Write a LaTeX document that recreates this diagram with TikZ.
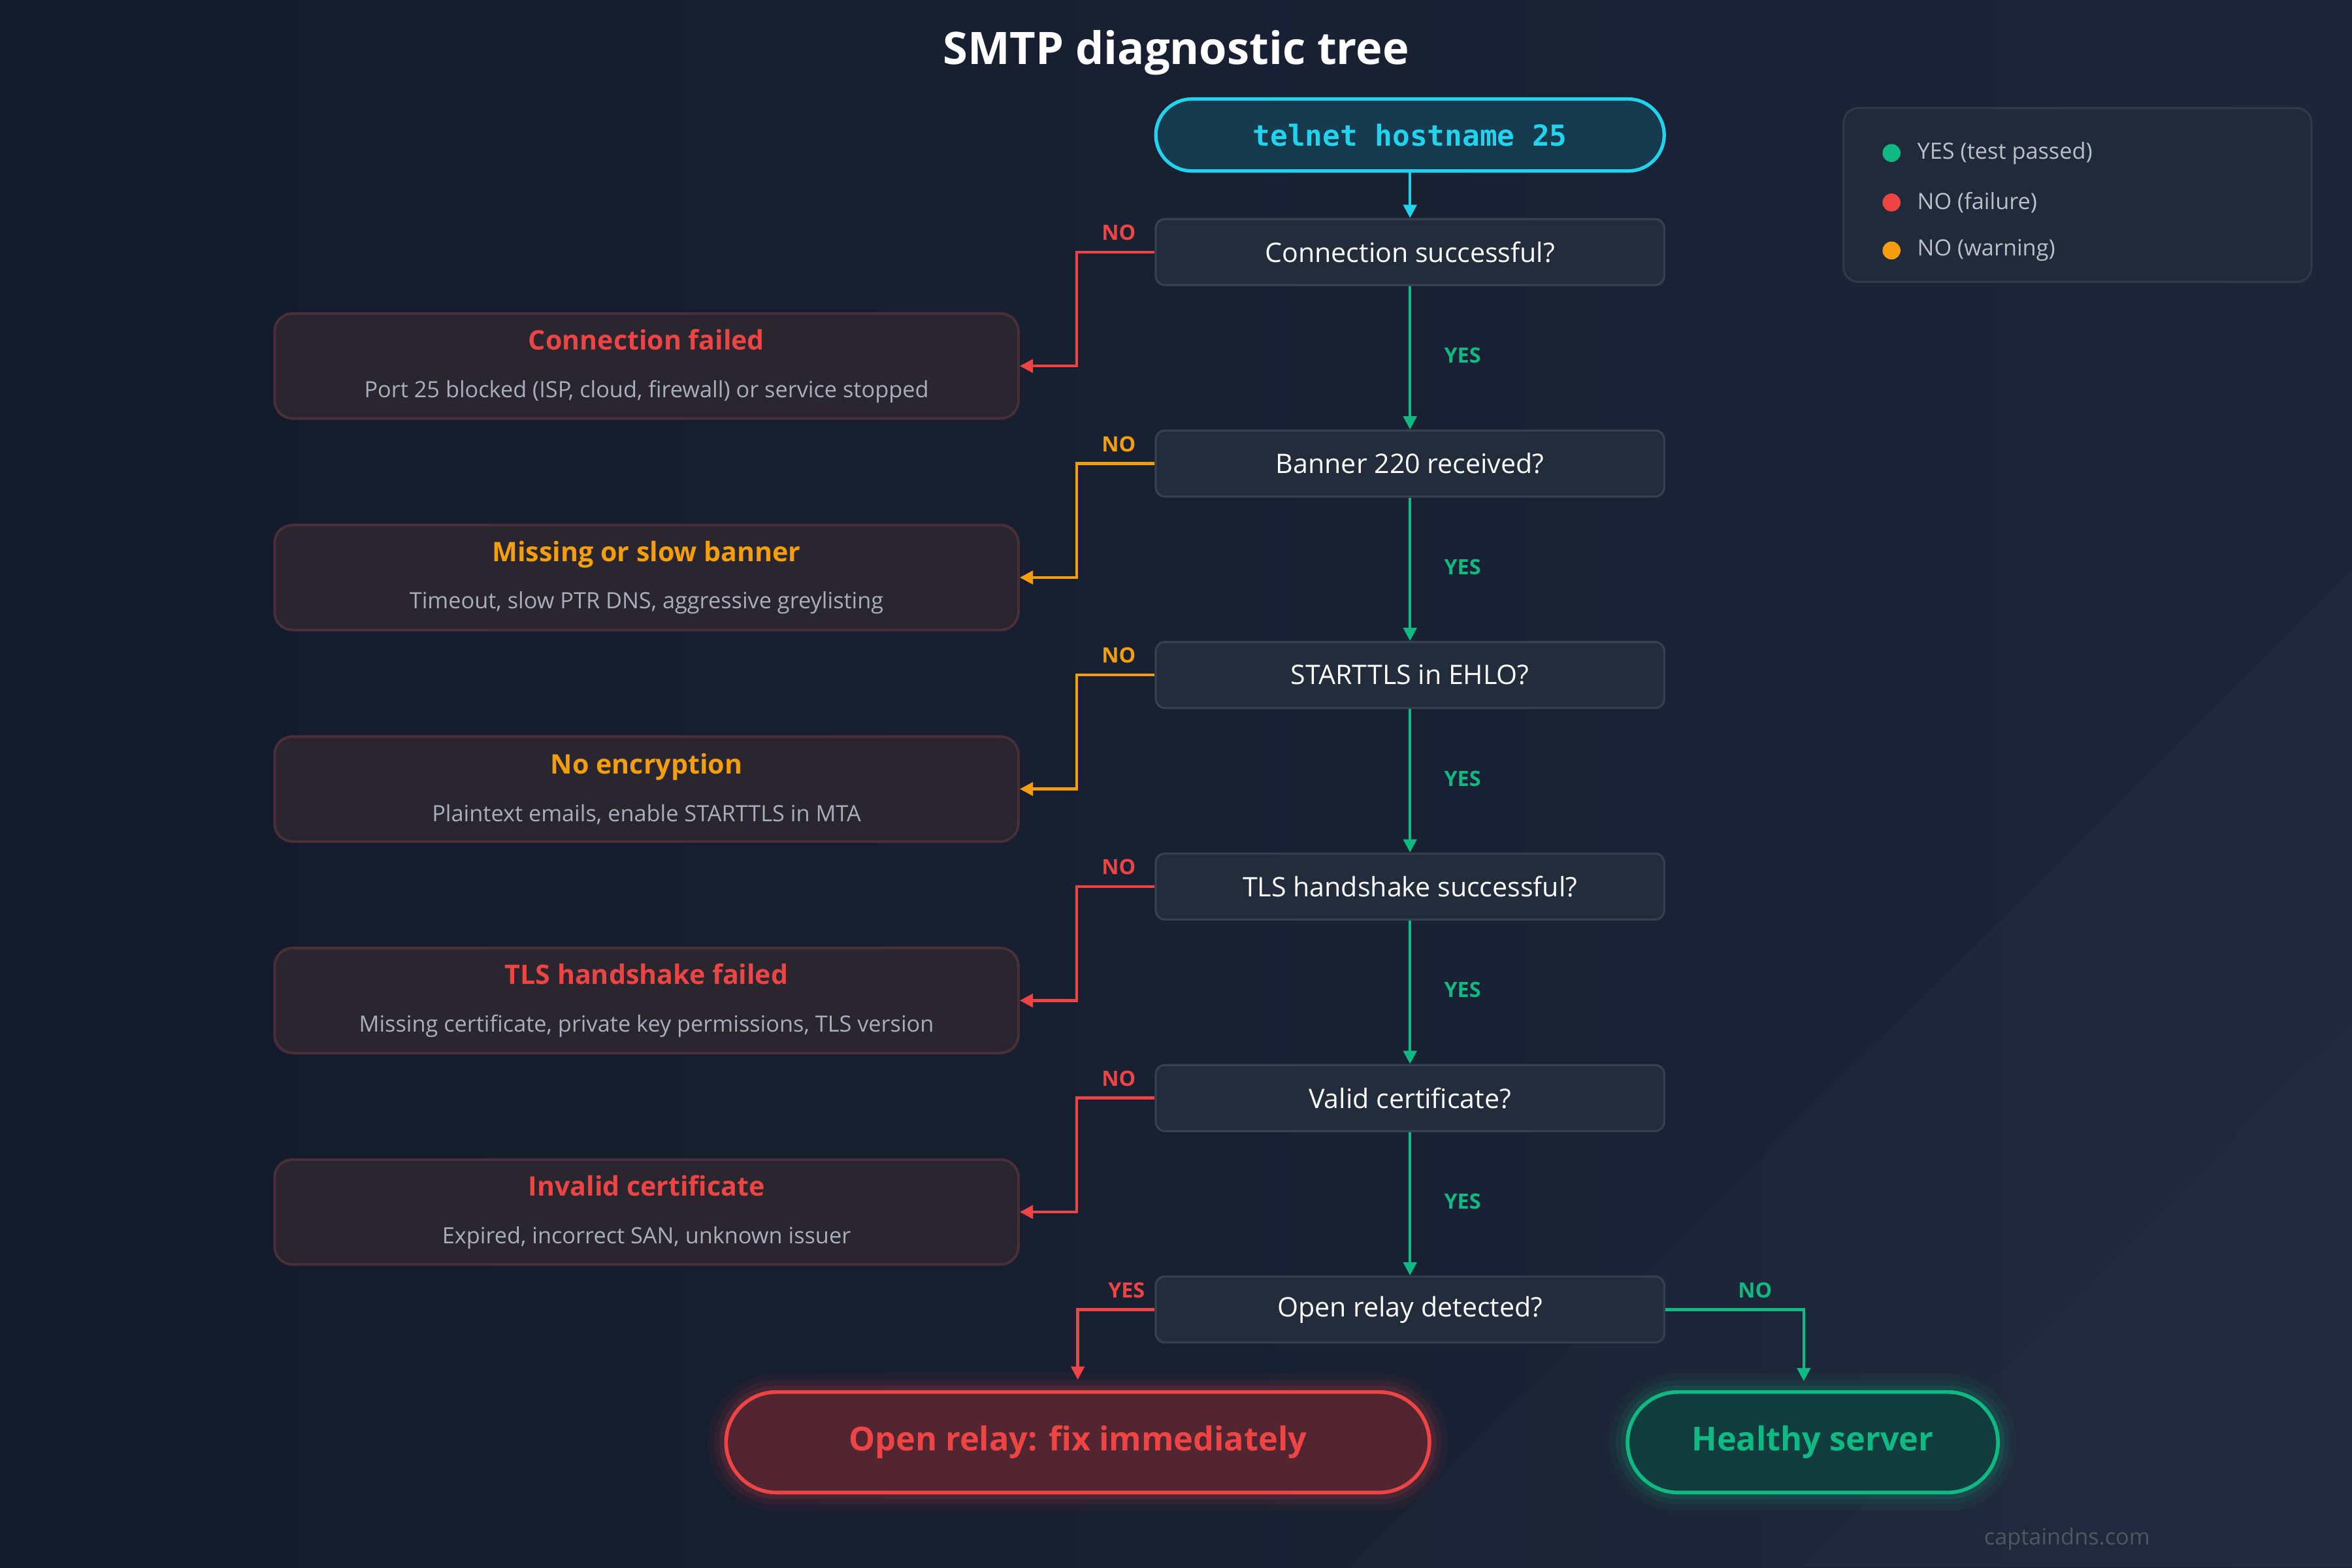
\documentclass[tikz,border=0pt]{standalone}
\usepackage{fontspec}
\setmainfont{Open Sans}
\newfontfamily\monof{DejaVu Sans Mono}
\usetikzlibrary{arrows.meta,calc}
\definecolor{bgA}{HTML}{131A2B}
\definecolor{bgB}{HTML}{1D2639}
\definecolor{dfill}{HTML}{222C3B}
\definecolor{dline}{HTML}{36414F}
\definecolor{ffill}{HTML}{29262F}
\definecolor{fline}{HTML}{4A2F38}
\definecolor{cred}{HTML}{EF4444}
\definecolor{corange}{HTML}{F59E0B}
\definecolor{cgreen}{HTML}{10B981}
\definecolor{ccyan}{HTML}{22D3EE}
\definecolor{subg}{HTML}{A9AFBA}
\begin{document}
\begin{tikzpicture}[x=0.02cm,y=-0.02cm,
  dec/.style={draw=dline,line width=0.8pt,fill=dfill,rounded corners=0.12cm,minimum width=6.78cm,minimum height=0.88cm,text=white,font=\fontsize{10.2}{12}\selectfont,inner sep=0pt},
  fail/.style={draw=fline,line width=1pt,fill=ffill,rounded corners=0.24cm,minimum width=9.92cm,minimum height=1.4cm,inner sep=0pt,align=center},
  lab/.style={font=\fontsize{8}{9}\selectfont\bfseries},
  arr/.style={line width=1.1pt,-{Triangle[length=5pt,width=5pt]}},
  leg/.style={font=\fontsize{8.5}{10}\selectfont,text=subg!80!white,anchor=west}]
\shade[left color=bgA,right color=bgB] (0,0) rectangle (1568,1045);
\fill[white,opacity=0.015] (900,1045) -- (1568,380) -- (1568,1045) -- cycle;
\fill[white,opacity=0.012] (1200,1045) -- (1568,680) -- (1568,1045) -- cycle;
\useasboundingbox (0,0) rectangle (1568,1045);
\node[text=white,font=\fontsize{17}{20}\selectfont\bfseries] (title) at (784,35) {SMTP diagnostic tree};
\node[draw=ccyan,line width=1.3pt,fill=ccyan!18!bgA,rounded corners=0.48cm,minimum width=6.78cm,minimum height=0.96cm,text=ccyan,font=\monof\fontsize{11}{13}\selectfont\bfseries] (tel) at (940,90) {telnet hostname 25};
\node[dec] (d1) at (940,168) {Connection successful?};
\node[dec] (d2) at (940,309) {Banner 220 received?};
\node[dec] (d3) at (940,450) {STARTTLS in EHLO?};
\node[dec] (d4) at (940,591) {TLS handshake successful?};
\node[dec] (d5) at (940,732) {Valid certificate?};
\node[dec] (d6) at (940,873) {Open relay detected?};
\node[fail] (f1) at (431,244) {\textcolor{cred}{\fontsize{10.2}{12}\selectfont\bfseries Connection failed}\\[6pt]{\fontsize{8.5}{10}\selectfont\color{subg}Port 25 blocked (ISP, cloud, firewall) or service stopped}};
\node[fail] (f2) at (431,385) {\textcolor{corange}{\fontsize{10.2}{12}\selectfont\bfseries Missing or slow banner}\\[6pt]{\fontsize{8.5}{10}\selectfont\color{subg}Timeout, slow PTR DNS, aggressive greylisting}};
\node[fail] (f3) at (431,526) {\textcolor{corange}{\fontsize{10.2}{12}\selectfont\bfseries No encryption}\\[6pt]{\fontsize{8.5}{10}\selectfont\color{subg}Plaintext emails, enable STARTTLS in MTA}};
\node[fail] (f4) at (431,667) {\textcolor{cred}{\fontsize{10.2}{12}\selectfont\bfseries TLS handshake failed}\\[6pt]{\fontsize{8.5}{10}\selectfont\color{subg}Missing certificate, private key permissions, TLS version}};
\node[fail] (f5) at (431,808) {\textcolor{cred}{\fontsize{10.2}{12}\selectfont\bfseries Invalid certificate}\\[6pt]{\fontsize{8.5}{10}\selectfont\color{subg}Expired, incorrect SAN, unknown issuer}};
\foreach \w/\o in {14/0.05,9/0.08,5/0.12}{
  \draw[cred,line width=\w pt,opacity=\o,rounded corners=0.67cm] (484,928) rectangle (953,995);
  \draw[cgreen,line width=\w pt,opacity=\o,rounded corners=0.67cm] (1085,928) rectangle (1332,995);}
\node[draw=cred,line width=1.4pt,fill=cred!28!bgA,rounded corners=0.67cm,minimum width=9.38cm,minimum height=1.34cm,text=cred,font=\fontsize{12.5}{15}\selectfont\bfseries] (relay) at (718.5,961.5) {Open relay: fix immediately};
\node[draw=cgreen,line width=1.4pt,fill=cgreen!22!bgA,rounded corners=0.67cm,minimum width=4.94cm,minimum height=1.34cm,text=cgreen,font=\fontsize{12.5}{15}\selectfont\bfseries] (ok) at (1208.5,961.5) {Healthy server};
\draw[arr,ccyan] (tel) -- (d1);
\foreach \a/\b in {d1/d2,d2/d3,d3/d4,d4/d5,d5/d6}{\draw[arr,cgreen] (\a) -- (\b);}
\foreach \y in {237,378,519,660,801}{\node[lab,text=cgreen] at (975,\y) {YES};}
\foreach \d/\f/\c in {d1/f1/cred,d2/f2/corange,d3/f3/corange,d4/f4/cred,d5/f5/cred}{
  \draw[arr,\c] (\d.west) -- ++(-52,0) |- (\f.east);
  \node[lab,text=\c] at ($(\d.west)+(-24,-13)$) {NO};}
\draw[arr,cred] (d6.west) -| ([yshift=0.14cm]relay.north);
\node[lab,text=cred] at (751,860) {YES};
\draw[arr,cgreen] (d6.east) -| ([xshift=-0.12cm,yshift=0.12cm]ok.north);
\node[lab,text=cgreen] at (1170,860) {NO};
\node[draw=dline!70!bgB,line width=0.8pt,fill=dfill!70!bgB,rounded corners=0.2cm,minimum width=6.24cm,minimum height=2.32cm] (legend) at (1385,130) {};
\fill[cgreen] (1261,102) circle (6);
\fill[cred] (1261,135) circle (6);
\fill[corange] (1261,167) circle (6);
\node[leg] (l1) at (1272,102) {YES (test passed)};
\node[leg] (l2) at (1272,135) {NO (failure)};
\node[leg] (l3) at (1272,167) {NO (warning)};
\node[font=\fontsize{8.5}{10}\selectfont,text=subg!35!bgB] (brand) at (1378,1026) {captaindns.com};
\end{tikzpicture}
\end{document}
